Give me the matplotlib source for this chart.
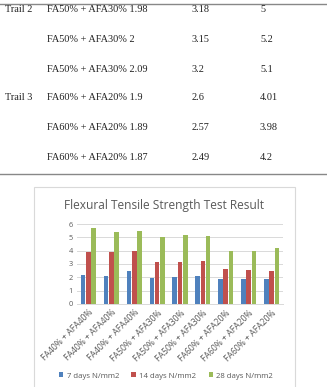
import numpy as np
import matplotlib.pyplot as plt
from matplotlib.patches import Rectangle

W, H = 327, 387

# table rows (trail 2 and trail 3)
trail = ['Trail 2', '', '', 'Trail 3', '', '']
mix = ['FA50% + AFA30%'] * 3 + ['FA60% + AFA20%'] * 3
t7 = ['1.98', '2', '2.09', '1.9', '1.89', '1.87']
t14 = ['3.18', '3.15', '3.2', '2.6', '2.57', '2.49']
t28 = ['5', '5.2', '5.1', '4.01', '3.98', '4.2']

# chart data
cats = ['FA40% + AFA40%'] * 3 + ['FA50% + AFA30%'] * 3 + ['FA60% + AFA20%'] * 3
d7 = [2.2, 2.1, 2.5, 1.98, 2.0, 2.09, 1.9, 1.89, 1.87]
d14 = [3.9, 3.88, 3.95, 3.18, 3.15, 3.2, 2.6, 2.57, 2.49]
d28 = [5.7, 5.4, 5.5, 5.0, 5.2, 5.1, 4.01, 3.98, 4.2]
series = ['7 days N/mm2', '14 days N/mm2', '28 days N/mm2']
colors = ['#4F81BD', '#C0504D', '#9BBB59']

fig = plt.figure(figsize=(W / 100, H / 100), dpi=100)

def fx(x):
    return x / W

def fy(y):
    return 1 - y / H

# --- table part ---
serif = 'Liberation Serif'
row_y = [10, 39, 69, 98, 128, 157]
for i, yc in enumerate(row_y):
    kw = dict(va='center', ha='left', fontsize=7.4, family=serif, color='#222222')
    fig.text(fx(5), fy(yc), trail[i], **kw)
    fig.text(fx(47), fy(yc), mix[i] + ' ' + t7[i], **kw)
    fig.text(fx(192), fy(yc), t14[i], **kw)
    fig.text(fx(260), fy(yc), t28[i], **kw)

for yl in [3.5, 174]:
    fig.add_artist(plt.Line2D([fx(0), fx(326)], [fy(yl), fy(yl)], color='#888888', lw=1.0))

# --- chart box ---
fig.add_artist(Rectangle((fx(34), fy(392)), fx(295 - 34), (392 - 187) / H,
                         facecolor='white', edgecolor='#d9d9d9', lw=0.8, zorder=-5))

sans = 'Open Sans'
fig.text(fx(164), fy(205), 'Flexural Tensile Strength Test Result', ha='center', va='center',
         fontsize=8.6, family=sans, color='#595959')

ax = fig.add_axes([fx(77), fy(304), fx(283 - 77), (304 - 224) / H])
x = np.arange(len(cats))
w = 0.2
for k, vals in enumerate([d7, d14, d28]):
    ax.bar(x + (k - 1) * 0.23, vals, width=w, color=colors[k], label=series[k], zorder=3)

ax.set_xlim(-0.5, len(cats) - 0.5)
ax.set_ylim(0, 6)
ax.set_yticks(range(0, 7))
ax.grid(axis='y', color='#d9d9d9', lw=0.7, zorder=0)
for s in ['top', 'right', 'left']:
    ax.spines[s].set_visible(False)
ax.spines['bottom'].set_color('#d9d9d9')
ax.spines['bottom'].set_linewidth(0.7)
ax.tick_params(length=0, labelsize=5.3, colors='#595959', pad=3)
ax.set_xticks(x)
ax.set_xticklabels(cats, rotation=45, ha='right', rotation_mode='anchor', family=sans, fontsize=6.2)
for lab in ax.get_yticklabels():
    lab.set_family(sans)
ax.set_facecolor('none')

leg = fig.legend(*ax.get_legend_handles_labels(), loc='center', bbox_to_anchor=(fx(166), fy(376)),
                 ncol=3, frameon=False, handlelength=0.6, handleheight=0.6, handletextpad=0.4,
                 columnspacing=1.6, prop={'family': sans, 'size': 5.6})
for t in leg.get_texts():
    t.set_color('#595959')

fig.savefig('out.png', dpi=100)
